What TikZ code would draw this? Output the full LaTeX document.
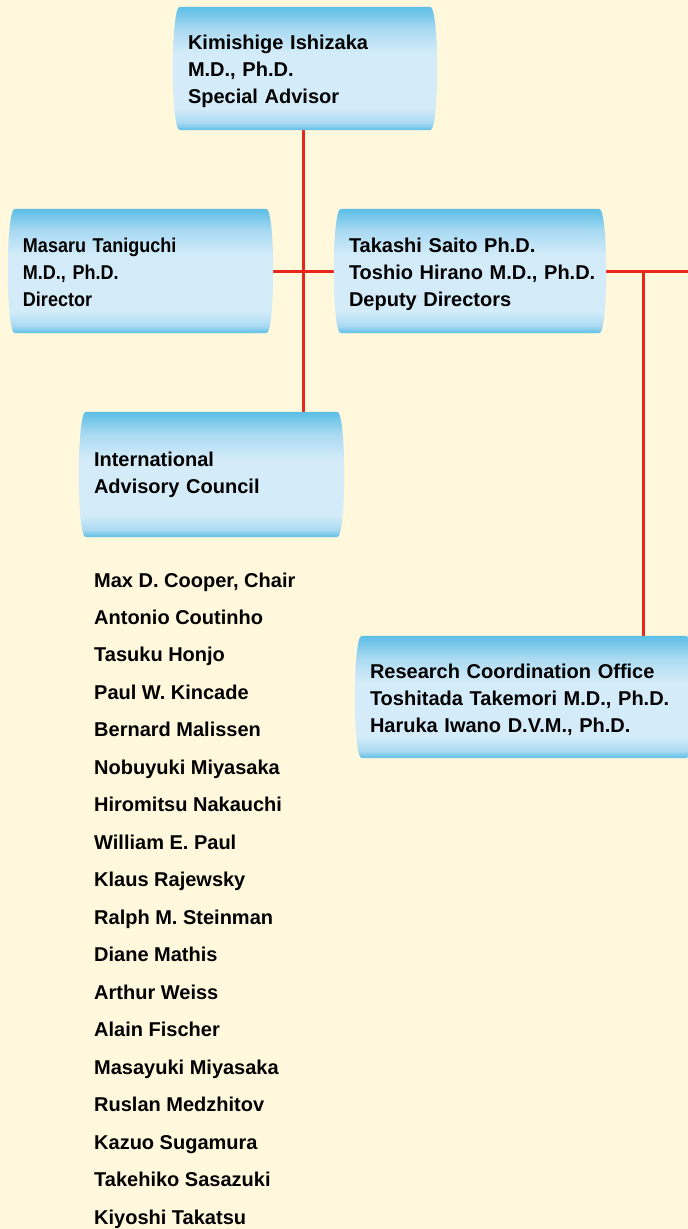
\documentclass[tikz,border=0pt]{standalone}
\usepackage{fontspec}
\setmainfont{Liberation Sans}
\newfontfamily\narrowfont{Liberation Sans}[FakeStretch=0.9]
\usetikzlibrary{calc}
\definecolor{cream}{RGB}{255,248,220}
\definecolor{redline}{RGB}{232,38,28}
\definecolor{bdark}{RGB}{92,190,230}
\definecolor{bmid}{RGB}{170,218,242}
\definecolor{blight}{RGB}{212,236,249}
\pgfdeclareverticalshading{barrel}{100bp}{color(0bp)=(bdark); color(25bp)=(bdark); color(28bp)=(bmid); color(34bp)=(blight); color(56bp)=(blight); color(66bp)=(bmid); color(75bp)=(bdark); color(100bp)=(bdark)}
\pgfdeclarelayer{back}
\pgfdeclarelayer{mid}
\pgfsetlayers{back,mid,main}
\newcommand\topstr{\rule{0pt}{21pt}}
\newcommand\botstr[1][5pt]{\rule[-#1]{0pt}{#1}}
\newcommand\barrelbox[1]{%
  \shade[shading=barrel] let \p1=(#1.north west), \p2=(#1.south east) in
    (\x1+7pt,\y1) -- (\x2-7pt,\y1)
    .. controls (\x2+2.33pt,\y1) and (\x2+2.33pt,\y2) .. (\x2-7pt,\y2)
    -- (\x1+7pt,\y2)
    .. controls (\x1-2.33pt,\y2) and (\x1-2.33pt,\y1) .. cycle;}
\begin{document}
\begin{tikzpicture}[x=1pt,y=-1pt,
  box/.style={inner xsep=15pt, inner ysep=0pt, align=left,
    font=\fontsize{20}{27}\selectfont\bfseries},
  listname/.style={anchor=base west, inner sep=0pt,
    font=\fontsize{20}{24}\selectfont\bfseries},
  link/.style={draw=redline, line width=3pt}]
\begin{pgfonlayer}{back}
\fill[cream] (0,0) rectangle (688,1229);
\end{pgfonlayer}
\useasboundingbox (0,0) rectangle (688,1229);

\node[box, minimum width=264pt, text width=234pt, minimum height=123pt] (k) at (305,68.5)
  {\topstr Kimishige Ishizaka\\M.D., Ph.D.\\Special Advisor\botstr};
\node[box, minimum width=265pt, text width=235pt, minimum height=124pt,
  font=\fontsize{20}{27}\selectfont\narrowfont\bfseries] (m) at (140.5,271)
  {\topstr Masaru Taniguchi\\M.D., Ph.D.\\Director\botstr};
\node[box, minimum width=272pt, text width=242pt, minimum height=124pt] (t) at (470,271)
  {\topstr Takashi Saito Ph.D.\\\mbox{Toshio Hirano M.D., Ph.D.}\\Deputy Directors\botstr};
\node[box, minimum width=265pt, text width=235pt, minimum height=125pt] (i) at (211.5,474.5)
  {\topstr International\\Advisory Council\botstr[10pt]};
\node[box, minimum width=338pt, text width=308pt, minimum height=122pt] (r) at (524,697)
  {\topstr Research Coordination Office\\\mbox{Toshitada Takemori M.D., Ph.D.}\\Haruka Iwano D.V.M., Ph.D.\botstr};

\foreach \nm [count=\n from 0] in {{Max D. Cooper, Chair},Antonio Coutinho,Tasuku Honjo,
  Paul W. Kincade,Bernard Malissen,Nobuyuki Miyasaka,Hiromitsu Nakauchi,William E. Paul,
  Klaus Rajewsky,Ralph M. Steinman,Diane Mathis,Arthur Weiss,Alain Fischer,
  Masayuki Miyasaka,Ruslan Medzhitov,Kazuo Sugamura,Takehiko Sasazuki,Kiyoshi Takatsu}
  \node[listname] (n\n) at (94,587+\n*37.47) {\nm};

\coordinate (edge) at (692,271);
\coordinate (j) at (643,271);
\coordinate (v) at (303,271);

\begin{pgfonlayer}{mid}
\draw[link] (k.south -| v) -- (v |- i.north);
\draw[link] (m.east) -- (t.west);
\draw[link] (t.east) -- (edge);
\draw[link] (j) -- (j |- r.north);
\barrelbox{k}
\barrelbox{m}
\barrelbox{t}
\barrelbox{i}
\barrelbox{r}
\end{pgfonlayer}
\end{tikzpicture}
\end{document}
